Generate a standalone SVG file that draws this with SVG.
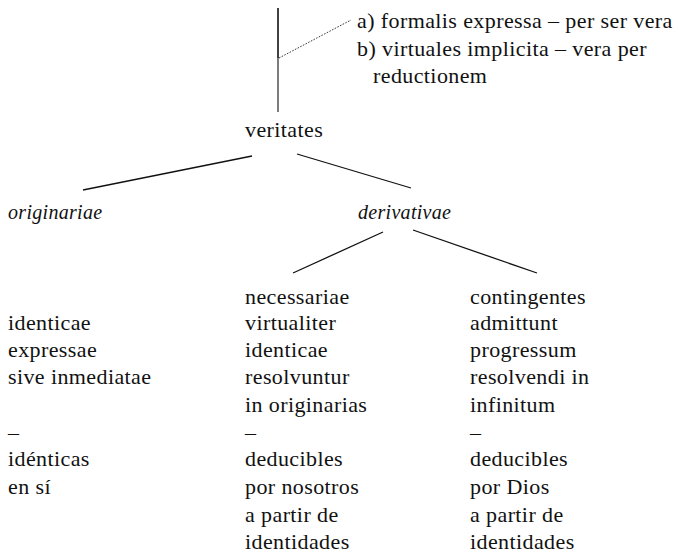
<svg xmlns="http://www.w3.org/2000/svg" width="684" height="556" viewBox="0 0 684 556" font-family="'Liberation Serif', 'DejaVu Serif', serif">
<style>
text{font-family:'Liberation Serif','DejaVu Serif',serif;font-size:22px;fill:#111;letter-spacing:0.4px}
.it{font-style:italic;font-size:20px;letter-spacing:0.3px}
.ln{stroke:#111;stroke-width:1.3;fill:none}
.dot{stroke:#222;stroke-width:0.9;stroke-dasharray:1.6 1.4;fill:none}
</style>
<rect width="684" height="556" fill="#fff"/>
<g id="connectors">
<line class="ln" x1="278" y1="8" x2="278" y2="58" style="stroke-width:1.6"/>
<line class="ln" x1="278" y1="58" x2="278" y2="112" style="stroke-width:1.1"/>
<line class="dot" x1="279" y1="58" x2="351" y2="20"/>
<line class="ln" x1="252" y1="156" x2="83" y2="190"/>
<line class="ln" x1="297" y1="154" x2="411" y2="188"/>
<line class="ln" x1="383" y1="232" x2="293" y2="273"/>
<line class="ln" x1="413" y1="230" x2="537" y2="273"/>
</g>
<g id="note">
<text x="357" y="28">a) formalis expressa – per ser vera</text>
<text x="357" y="56">b) virtuales implicita – vera per</text>
<text x="373" y="83">reductionem</text>
</g>
<g id="veritates"><text x="245" y="137">veritates</text></g>
<g id="originariae"><text class="it" x="8" y="219">originariae</text></g>
<g id="derivativae"><text class="it" x="358" y="219">derivativae</text></g>
<g id="identicae">
<text x="8" y="330">identicae</text>
<text x="8" y="357">expressae</text>
<text x="8" y="384">sive inmediatae</text>
<text x="8" y="440">–</text>
<text x="8" y="466">idénticas</text>
<text x="8" y="494">en sí</text>
</g>
<g id="necessariae">
<text x="245" y="304">necessariae</text>
<text x="245" y="330">virtualiter</text>
<text x="245" y="357">identicae</text>
<text x="245" y="384">resolvuntur</text>
<text x="245" y="412">in originarias</text>
<text x="245" y="440">–</text>
<text x="245" y="466">deducibles</text>
<text x="245" y="494">por nosotros</text>
<text x="245" y="522">a partir de</text>
<text x="245" y="549">identidades</text>
</g>
<g id="contingentes">
<text x="470" y="304">contingentes</text>
<text x="470" y="330">admittunt</text>
<text x="470" y="357">progressum</text>
<text x="470" y="384">resolvendi in</text>
<text x="470" y="412">infinitum</text>
<text x="470" y="440">–</text>
<text x="470" y="466">deducibles</text>
<text x="470" y="494">por Dios</text>
<text x="470" y="522">a partir de</text>
<text x="470" y="549">identidades</text>
</g>
</svg>
